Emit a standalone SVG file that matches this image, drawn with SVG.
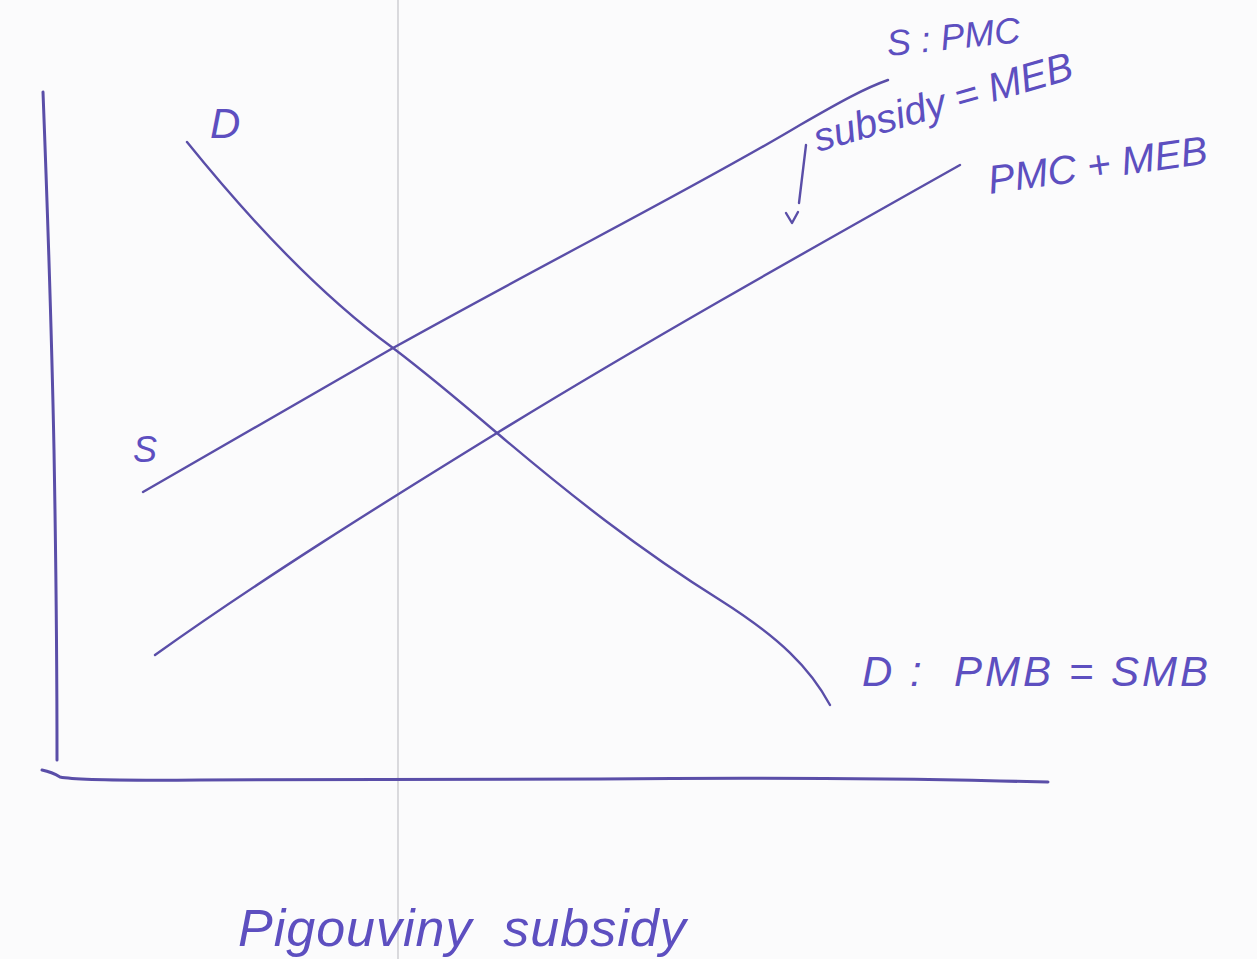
<svg xmlns="http://www.w3.org/2000/svg" width="1257" height="959" viewBox="0 0 1257 959">
<style>
.ln{fill:none;stroke:#5a4ea8;stroke-width:2.4;stroke-linecap:round;stroke-linejoin:round}
.ax{fill:none;stroke:#5a4ea8;stroke-width:3;stroke-linecap:round}
.t{font-family:"Liberation Sans",Arial,sans-serif;font-style:italic;fill:#5d4fc0}
</style>
<rect width="1257" height="959" fill="#fbfbfc"/>
<line x1="398" y1="0" x2="398" y2="959" stroke="#c4c4c8" stroke-width="1.2"/>
<g id="axes">
<path class="ax" d="M43,92 Q51,300 54,450 Q57,620 57,760"/>
<path class="ax" d="M42,770 Q52,772 60,777 Q80,781 200,780 L600,779 Q820,777 1000,781 L1048,782"/>
</g>
<g id="connectors">
<path class="ln" id="demand" d="M187,142 C250,220 320,295 393,348 C430,376 470,410 497,433 C570,495 640,550 720,600 C780,638 810,668 830,705"/>
<path class="ln" id="supply" d="M143,492 L393,348 C560,255 700,185 800,125 C840,102 865,88 888,80"/>
<path class="ln" id="pmcmeb" d="M155,655 C260,580 380,505 497,433 C640,345 800,255 960,165"/>
<path class="ln" d="M806,145 L799,203"/>
<path class="ln" d="M786,213 L792,223 L798,212"/>
</g>
<g id="label-D-top"><text class="t" x="210" y="138" font-size="42">D</text></g>
<g id="label-S-left"><text class="t" x="133" y="462" font-size="36">S</text></g>
<g id="label-S-PMC"><text class="t" x="888" y="56" font-size="36" transform="rotate(-6 888 56)">S : PMC</text></g>
<g id="label-subsidy"><text class="t" x="818" y="152" font-size="40" transform="rotate(-16 818 152)">subsidy = MEB</text></g>
<g id="label-PMC-MEB"><text class="t" x="990" y="194" font-size="40" transform="rotate(-8 990 194)">PMC + MEB</text></g>
<g id="label-D"><text class="t" x="862" y="686" font-size="42" letter-spacing="3" xml:space="preserve">D :  PMB = SMB</text></g>
<g id="title"><text class="t" x="238" y="946" font-size="52" letter-spacing="1" xml:space="preserve">Pigouviny  subsidy</text></g>
</svg>
